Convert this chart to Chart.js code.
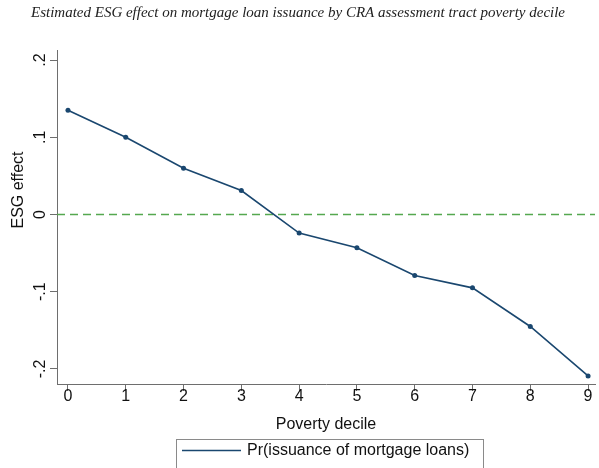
<!DOCTYPE html>
<html>
<head>
<meta charset="utf-8">
<script src="https://cdn.jsdelivr.net/npm/chart.js@4"></script>
<style>
  html, body { margin: 0; padding: 0; background: #fff; }
  #wrap { width: 599px; height: 468px; position: relative; }
</style>
</head>
<body>
<div id="wrap"><canvas id="c" width="599" height="468"></canvas></div>
<script>
// Poverty deciles and estimated ESG effect per decile
const deciles = [0, 1, 2, 3, 4, 5, 6, 7, 8, 9];
const esgEffect = [0.135, 0.100, 0.060, 0.031, -0.024, -0.043, -0.079, -0.095, -0.145, -0.209];
const yTickValues = [-0.2, -0.1, 0, 0.1, 0.2];
const yTickLabels = ['-.2', '-.1', '0', '.1', '.2'];
const chartTitle = 'Estimated ESG effect on mortgage loan issuance by CRA assessment tract poverty decile';
const xTitle = 'Poverty decile';
const yTitle = 'ESG effect';
const seriesLabel = 'Pr(issuance of mortgage loans)';

const NAVY = '#1a476f';
const GREEN = '#55a84f';
const AXIS = '#6e6e6e';
const SANS = '"Liberation Sans", Arial, sans-serif';

// Title, rotated y labels, zero reference line and legend box
const decor = {
  id: 'decor',
  beforeDatasetsDraw(chart) {
    const ctx = chart.ctx, y = chart.scales.y, a = chart.chartArea;
    const py = y.getPixelForValue(0);
    ctx.save();
    ctx.strokeStyle = GREEN;
    ctx.lineWidth = 1.3;
    ctx.setLineDash([8, 5]);
    ctx.beginPath();
    ctx.moveTo(a.left, py);
    ctx.lineTo(a.right, py);
    ctx.stroke();
    ctx.restore();
  },
  afterDraw(chart) {
    const ctx = chart.ctx, y = chart.scales.y;
    ctx.save();
    // title
    ctx.fillStyle = '#222';
    ctx.font = 'italic 15px "Liberation Serif", "Times New Roman", serif';
    ctx.textAlign = 'center';
    ctx.textBaseline = 'middle';
    ctx.fillText(chartTitle, 298, 13);

    // y tick labels, rotated
    ctx.font = '16px ' + SANS;
    ctx.fillStyle = '#111';
    yTickValues.forEach((v, i) => {
      const py = y.getPixelForValue(v);
      ctx.save();
      ctx.translate(41, py);
      ctx.rotate(-Math.PI / 2);
      ctx.textAlign = 'center';
      ctx.textBaseline = 'middle';
      ctx.fillText(yTickLabels[i], 0, 0);
      ctx.restore();
    });

    // y axis title
    ctx.save();
    ctx.translate(19, 190);
    ctx.rotate(-Math.PI / 2);
    ctx.textAlign = 'center';
    ctx.textBaseline = 'middle';
    ctx.fillText(yTitle, 0, 0);
    ctx.restore();

    // legend
    const ds = chart.data.datasets[0];
    ctx.strokeStyle = '#8a8a8a';
    ctx.lineWidth = 1;
    ctx.strokeRect(176.5, 439.5, 307, 40);
    ctx.strokeStyle = ds.borderColor;
    ctx.lineWidth = 1.6;
    ctx.beginPath();
    ctx.moveTo(182, 450.5);
    ctx.lineTo(241, 450.5);
    ctx.stroke();
    ctx.fillStyle = '#111';
    ctx.textAlign = 'left';
    ctx.textBaseline = 'middle';
    ctx.fillText(ds.label, 247, 451);
    ctx.restore();
  }
};

new Chart(document.getElementById('c'), {
  type: 'line',
  data: {
    datasets: [{
      label: seriesLabel,
      data: deciles.map((d, i) => ({ x: d, y: esgEffect[i] })),
      borderColor: NAVY,
      backgroundColor: NAVY,
      borderWidth: 1.6,
      pointRadius: 2.5,
      pointBorderWidth: 0,
      tension: 0
    }]
  },
  options: {
    responsive: false,
    animation: false,
    layout: { padding: { top: 50, right: 0, bottom: 34, left: 0 } },
    plugins: {
      legend: { display: false },
      tooltip: { enabled: false },
      title: { display: false }
    },
    scales: {
      x: {
        type: 'linear',
        min: -0.19,
        max: 9.12,
        afterBuildTicks(scale) { scale.ticks = deciles.map(v => ({ value: v })); },
        afterFit(scale) { scale.height = 50; },
        ticks: {
          font: { family: SANS, size: 16 },
          color: '#111',
          padding: -4,
          maxRotation: 0
        },
        grid: { drawOnChartArea: false, tickLength: 7, color: AXIS, tickWidth: 1 },
        border: { color: AXIS, width: 1 },
        title: {
          display: true,
          text: xTitle,
          font: { family: SANS, size: 16 },
          color: '#111',
          padding: { top: 0, bottom: 0 }
        }
      },
      y: {
        type: 'linear',
        min: -0.2195,
        max: 0.213,
        afterBuildTicks(scale) { scale.ticks = yTickValues.map(v => ({ value: v })); },
        afterFit(scale) { scale.width = 57; },
        ticks: { display: false },
        grid: { drawOnChartArea: false, tickLength: 7, color: AXIS, tickWidth: 1 },
        border: { color: AXIS, width: 1 }
      }
    }
  },
  plugins: [decor]
});
</script>
</body>
</html>
